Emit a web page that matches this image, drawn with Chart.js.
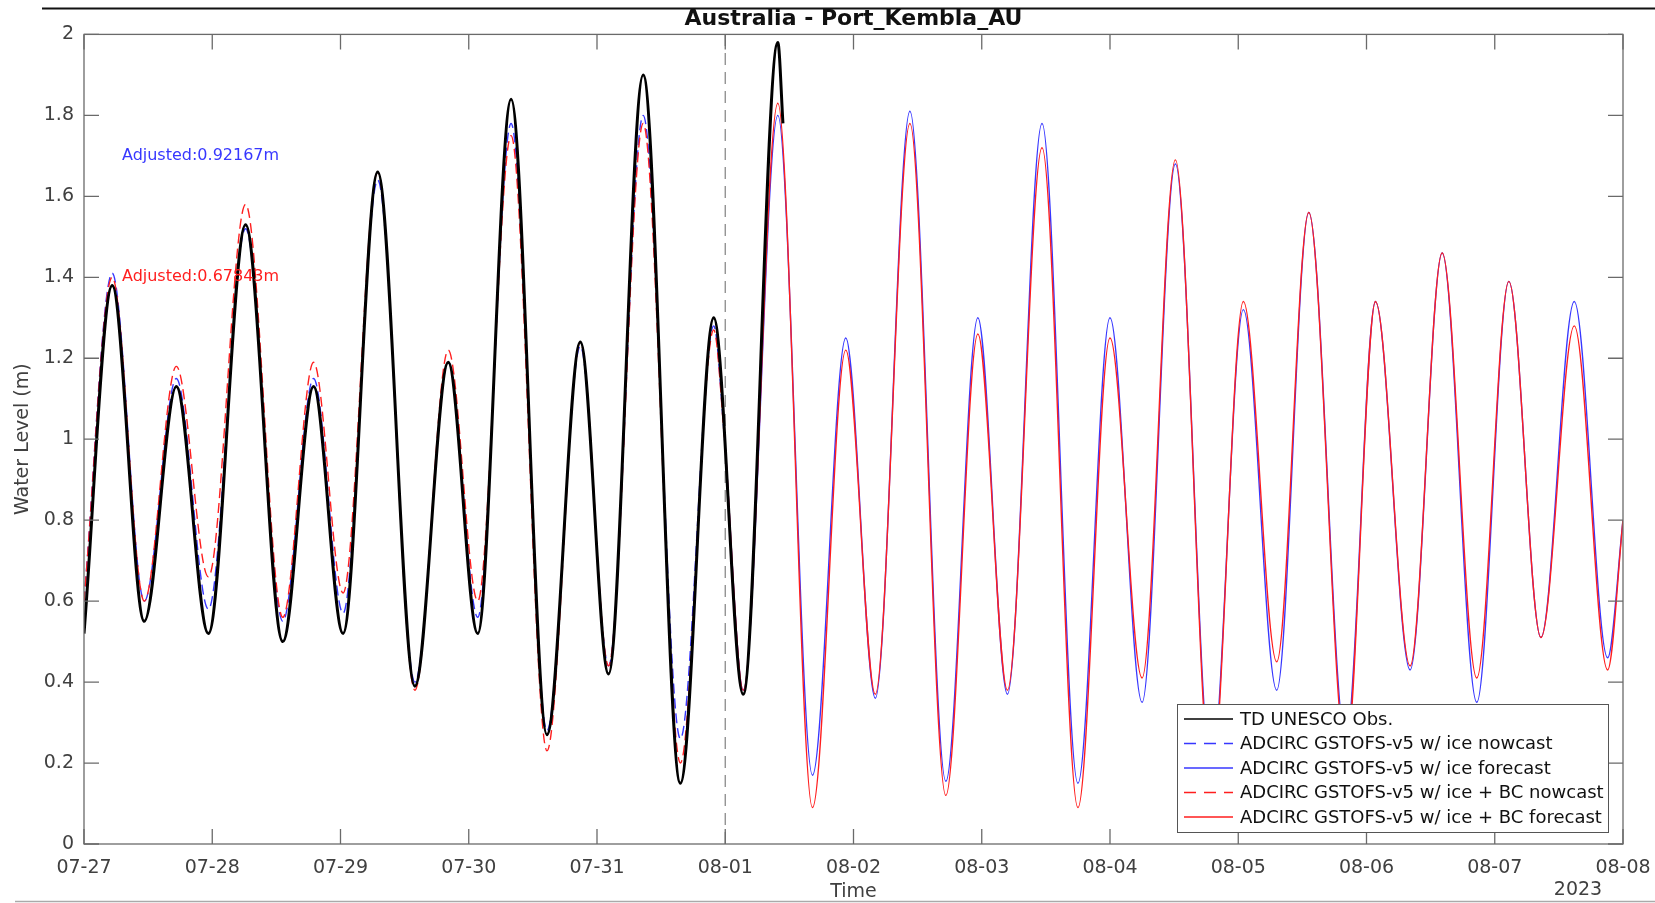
<!DOCTYPE html>
<html>
<head>
<meta charset="utf-8">
<script src="https://cdn.jsdelivr.net/npm/chart.js@4.4.0/dist/chart.umd.min.js"></script>
<style>
  html, body { margin: 0; padding: 0; background: #fff; }
  #wrap { width: 1655px; height: 903px; position: relative; }
</style>
</head>
<body>
<div id="wrap"><canvas id="tide-chart"></canvas></div>
<script>
// x positions are days since 07-27 00:00
const dayLabels = ['07-27', '07-28', '07-29', '07-30', '07-31', '08-01', '08-02',
  '08-03', '08-04', '08-05', '08-06', '08-07', '08-08'];
const levelTicks = [0, 0.2, 0.4, 0.6, 0.8, 1, 1.2, 1.4, 1.6, 1.8, 2];

// observations (TD UNESCO)
const obsDays = [0, 0.22, 0.47, 0.72, 0.97, 1.26, 1.55, 1.79, 2.02, 2.29, 2.58, 2.84,
  3.07, 3.33, 3.61, 3.87, 4.09, 4.36, 4.65, 4.91, 5.14, 5.41, 5.45];
const obsLevel = [0.52, 1.38, 0.55, 1.13, 0.52, 1.53, 0.50, 1.13, 0.52, 1.66, 0.39, 1.19,
  0.52, 1.84, 0.27, 1.24, 0.42, 1.90, 0.15, 1.30, 0.37, 1.98, 1.78];

// nowcast period 07-27 -> 08-01
const nowDays = [0, 0.22, 0.47, 0.72, 0.97, 1.26, 1.55, 1.79, 2.02, 2.29, 2.58, 2.84,
  3.07, 3.33, 3.61, 3.87, 4.09, 4.36, 4.65, 4.91, 5.0];
const iceNow = [0.60, 1.41, 0.60, 1.15, 0.58, 1.52, 0.55, 1.15, 0.57, 1.64, 0.40, 1.19,
  0.56, 1.78, 0.28, 1.23, 0.44, 1.80, 0.26, 1.28, 0.98];
const iceBcNow = [0.60, 1.40, 0.60, 1.18, 0.66, 1.58, 0.56, 1.19, 0.62, 1.66, 0.38, 1.22,
  0.60, 1.75, 0.23, 1.24, 0.44, 1.78, 0.20, 1.27, 0.98];

// forecast period 08-01 -> 08-08
const foreDays = [5.0, 5.14, 5.41, 5.68, 5.94, 6.17, 6.44, 6.72, 6.97, 7.20, 7.47, 7.75,
  8.00, 8.25, 8.51, 8.79, 9.04, 9.30, 9.55, 9.84, 10.07, 10.34, 10.59, 10.86, 11.11,
  11.36, 11.62, 11.88, 12.0];
const iceFore = [0.98, 0.38, 1.80, 0.17, 1.25, 0.36, 1.81, 0.155, 1.30, 0.37, 1.78, 0.15,
  1.30, 0.35, 1.68, 0.18, 1.32, 0.38, 1.56, 0.25, 1.34, 0.43, 1.46, 0.35, 1.39,
  0.51, 1.34, 0.46, 0.80];
const iceBcFore = [0.98, 0.38, 1.83, 0.09, 1.22, 0.37, 1.78, 0.12, 1.26, 0.38, 1.72, 0.09,
  1.25, 0.41, 1.69, 0.15, 1.34, 0.45, 1.56, 0.22, 1.34, 0.44, 1.46, 0.41, 1.39,
  0.51, 1.28, 0.43, 0.80];

const forecastStart = 5; // 08-01

const pts = (xs, ys) => xs.map((x, i) => ({ x: x, y: ys[i] }));

const BLUE = 'rgb(55,55,255)';
const RED = 'rgb(255,30,30)';
const FONT = "'DejaVu Sans', sans-serif";

const legendItems = [
  { label: 'TD UNESCO Obs.', color: '#000', dash: [] },
  { label: 'ADCIRC GSTOFS-v5 w/ ice nowcast', color: BLUE, dash: [12, 8] },
  { label: 'ADCIRC GSTOFS-v5 w/ ice forecast', color: BLUE, dash: [] },
  { label: 'ADCIRC GSTOFS-v5 w/ ice + BC nowcast', color: RED, dash: [12, 8] },
  { label: 'ADCIRC GSTOFS-v5 w/ ice + BC forecast', color: RED, dash: [] }
];

// matlab-like box, inward ticks, notes and legend
const decorations = {
  id: 'decorations',
  afterDraw(chart) {
    const { ctx, chartArea: a, scales } = chart;
    const xs = scales.x, ys = scales.y;
    ctx.save();

    // frame lines of the original screenshot
    ctx.strokeStyle = '#111';
    ctx.lineWidth = 2;
    ctx.beginPath(); ctx.moveTo(42, 8.5); ctx.lineTo(1655, 8.5); ctx.stroke();
    ctx.strokeStyle = '#aaa';
    ctx.lineWidth = 1.5;
    ctx.beginPath(); ctx.moveTo(15, 901.5); ctx.lineTo(1655, 901.5); ctx.stroke();

    // axes box + ticks
    ctx.strokeStyle = '#6a6a6a';
    ctx.lineWidth = 1.3;
    ctx.strokeRect(a.left, a.top, a.right - a.left, a.bottom - a.top);
    const tl = 15;
    ctx.beginPath();
    dayLabels.forEach((_, d) => {
      const px = xs.getPixelForValue(d);
      ctx.moveTo(px, a.bottom); ctx.lineTo(px, a.bottom - tl);
      ctx.moveTo(px, a.top); ctx.lineTo(px, a.top + tl);
    });
    levelTicks.forEach(v => {
      const py = ys.getPixelForValue(v);
      ctx.moveTo(a.left, py); ctx.lineTo(a.left + tl, py);
      ctx.moveTo(a.right, py); ctx.lineTo(a.right - tl, py);
    });
    ctx.stroke();

    // adjustment notes
    ctx.font = '16px ' + FONT;
    ctx.textBaseline = 'middle';
    ctx.textAlign = 'left';
    ctx.fillStyle = BLUE;
    ctx.fillText('Adjusted:0.92167m', xs.getPixelForValue(0.296), ys.getPixelForValue(1.70));
    ctx.fillStyle = RED;
    ctx.fillText('Adjusted:0.67843m', xs.getPixelForValue(0.296), ys.getPixelForValue(1.40));

    // year under last tick
    ctx.fillStyle = '#404040';
    ctx.font = '19px ' + FONT;
    ctx.textAlign = 'center';
    ctx.fillText('2023', xs.getPixelForValue(12) - 45, 890);

    // legend box
    const bw = 431, bh = 128;
    const bx = a.right - 15 - bw, by = a.bottom - 12 - bh;
    ctx.fillStyle = '#fff';
    ctx.fillRect(bx, by, bw, bh);
    ctx.strokeStyle = '#555';
    ctx.lineWidth = 1;
    ctx.strokeRect(bx + 0.5, by + 0.5, bw, bh);
    ctx.font = '18px ' + FONT;
    ctx.textAlign = 'left';
    legendItems.forEach((it, i) => {
      const ry = by + 15 + i * 24.5;
      ctx.strokeStyle = it.color;
      ctx.lineWidth = 1.3;
      ctx.setLineDash(it.dash);
      ctx.beginPath(); ctx.moveTo(bx + 7, ry); ctx.lineTo(bx + 56, ry); ctx.stroke();
      ctx.setLineDash([]);
      ctx.fillStyle = '#111';
      ctx.fillText(it.label, bx + 63, ry + 1);
    });
    ctx.restore();
  }
};

const line = (label, data, color, width, dash, order) => ({
  label, data, borderColor: color, backgroundColor: color, borderWidth: width,
  borderDash: dash, pointRadius: 0, fill: false, cubicInterpolationMode: 'monotone', order
});

new Chart(document.getElementById('tide-chart'), {
  type: 'line',
  data: {
    datasets: [
      line('TD UNESCO Obs.', pts(obsDays, obsLevel), '#000', 3, [], 0),
      line('ADCIRC GSTOFS-v5 w/ ice nowcast', pts(nowDays, iceNow), BLUE, 1.4, [10, 5], 2),
      line('ADCIRC GSTOFS-v5 w/ ice forecast', pts(foreDays, iceFore), BLUE, 1.4, [], 2),
      line('ADCIRC GSTOFS-v5 w/ ice + BC nowcast', pts(nowDays, iceBcNow), RED, 1.4, [10, 5], 1),
      line('ADCIRC GSTOFS-v5 w/ ice + BC forecast', pts(foreDays, iceBcFore), RED, 1.4, [], 1),
      {
        label: 'forecast start',
        data: [{ x: forecastStart, y: 0 }, { x: forecastStart, y: 2 }],
        borderColor: '#8a8a8a', borderWidth: 1.3, borderDash: [12, 7],
        pointRadius: 0, order: 3
      }
    ]
  },
  options: {
    responsive: true,
    maintainAspectRatio: false,
    animation: false,
    layout: { padding: { left: 0, right: 32, top: 0, bottom: 0 } },
    plugins: {
      legend: { display: false },
      tooltip: { enabled: false },
      title: {
        display: true,
        fullSize: false,
        text: 'Australia - Port_Kembla_AU',
        color: '#111',
        font: { family: FONT, size: 22, weight: 'bold' },
        padding: { top: 6, bottom: 2 }
      }
    },
    scales: {
      x: {
        type: 'linear',
        min: 0,
        max: 12,
        grid: { display: false, drawTicks: false },
        border: { display: false },
        ticks: {
          stepSize: 1,
          padding: 13,
          color: '#404040',
          font: { family: FONT, size: 19 },
          maxRotation: 0,
          callback: v => dayLabels[v]
        },
        title: {
          display: true,
          text: 'Time',
          color: '#404040',
          font: { family: FONT, size: 19 },
          padding: { top: 0, bottom: 0 }
        },
        afterFit: s => { s.height = 59; s.paddingLeft = 0; s.paddingRight = 0; }
      },
      y: {
        min: 0,
        max: 2,
        grid: { display: false, drawTicks: false },
        border: { display: false },
        ticks: {
          stepSize: 0.2,
          padding: 10,
          color: '#404040',
          font: { family: FONT, size: 19 },
          callback: v => String(Number(v.toFixed(1)))
        },
        title: {
          display: true,
          text: 'Water Level (m)',
          color: '#404040',
          font: { family: FONT, size: 19 },
          padding: { top: 12, bottom: 0 }
        },
        afterFit: s => { s.width = 84; s.paddingTop = 0; s.paddingBottom = 0; }
      }
    }
  },
  plugins: [decorations]
});
</script>
</body>
</html>
